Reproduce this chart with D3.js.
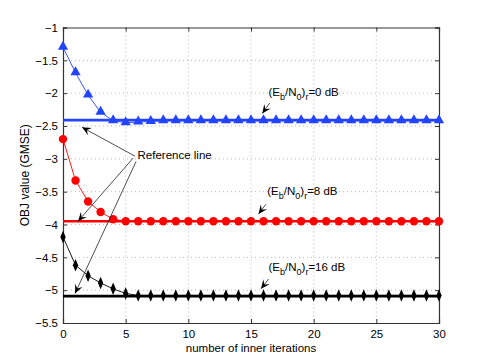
<!DOCTYPE html>
<html><head><meta charset="utf-8">
<script src="https://cdn.jsdelivr.net/npm/d3@7"></script>
<style>body{margin:0;background:#fff}svg{display:block}text{font-family:"Liberation Sans",Arial,sans-serif}</style>
</head><body><svg id="c" width="485" height="364"></svg>
<script>
const iterations = d3.range(0, 31);
const blueVals = [-1.30,-1.69,-2.03,-2.29,-2.42,-2.45,-2.44,-2.43,-2.42,-2.42,-2.42,-2.42,-2.42,-2.42,-2.42,-2.42,-2.42,-2.42,-2.42,-2.42,-2.42,-2.42,-2.42,-2.42,-2.42,-2.42,-2.42,-2.42,-2.42,-2.42,-2.42];
const redVals  = [-2.70,-3.33,-3.65,-3.81,-3.92,-3.95,-3.95,-3.95,-3.95,-3.95,-3.95,-3.95,-3.95,-3.95,-3.95,-3.95,-3.95,-3.95,-3.95,-3.95,-3.95,-3.95,-3.95,-3.95,-3.95,-3.95,-3.95,-3.95,-3.95,-3.95,-3.95];
const blackVals= [-4.19,-4.62,-4.78,-4.89,-4.98,-5.05,-5.08,-5.08,-5.08,-5.08,-5.08,-5.08,-5.08,-5.08,-5.08,-5.08,-5.08,-5.08,-5.08,-5.08,-5.08,-5.08,-5.08,-5.08,-5.08,-5.08,-5.08,-5.08,-5.08,-5.08,-5.08];
const refLines = [-2.41, -3.95, -5.09];
const xTicks = [0,5,10,15,20,25,30];
const yTicks = [-1,-1.5,-2,-2.5,-3,-3.5,-4,-4.5,-5,-5.5];
const snrLabels = ["0 dB","8 dB","16 dB"];

const W=485,H=364, L=63, R=439, T=27.5, B=323;
const x = d3.scaleLinear().domain([0,30]).range([L,R]);
const y = d3.scaleLinear().domain([-5.5,-1]).range([B,T]);
const svg = d3.select("#c");

// grid
const g = svg.append("g");
g.selectAll(".gx").data(xTicks.slice(1,-1)).enter().append("line")
 .attr("x1",d=>x(d)).attr("x2",d=>x(d)).attr("y1",T).attr("y2",B)
 .attr("stroke","#a8a8a8").attr("stroke-width",0.8).attr("stroke-dasharray","1,3");
g.selectAll(".gy").data(yTicks.slice(1,-1)).enter().append("line")
 .attr("y1",d=>y(d)).attr("y2",d=>y(d)).attr("x1",L).attr("x2",R)
 .attr("stroke","#a8a8a8").attr("stroke-width",0.8).attr("stroke-dasharray","1,3");

// axes
const fmt = d=> (d<0? "\u2212"+Math.abs(d): String(d));
const axB = d3.axisBottom(x).tickValues(xTicks).tickSize(-4).tickPadding(7).tickFormat(d=>d);
const axL = d3.axisLeft(y).tickValues(yTicks).tickSize(-4).tickPadding(5).tickFormat(fmt);
const axT = d3.axisTop(x).tickValues(xTicks).tickSize(-4).tickFormat("");
const axR = d3.axisRight(y).tickValues(yTicks).tickSize(-4).tickFormat("");
function style(sel){ sel.select(".domain").attr("stroke","#333").attr("stroke-width",1.2);
 sel.selectAll(".tick line").attr("stroke","#333");
 sel.selectAll("text").attr("font-size",11.5).attr("fill","#000").attr("font-family","Liberation Sans, Arial, sans-serif"); }
svg.append("g").attr("transform",`translate(0,${B})`).call(axB).call(style);
svg.append("g").attr("transform",`translate(${L},0)`).call(axL).call(style);
svg.append("g").attr("transform",`translate(0,${T})`).call(axT).call(style);
svg.append("g").attr("transform",`translate(${R},0)`).call(axR).call(style);

// reference lines
const colors = ["#2244ff","#ff0000","#000000"];
refLines.forEach((v,i)=>{
  svg.append("line").attr("x1",x(0)).attr("x2",x(30)).attr("y1",y(v)).attr("y2",y(v))
   .attr("stroke",colors[i]).attr("stroke-width",2.6);
});

const series=[blueVals,redVals,blackVals];
const line = d3.line().x((d,i)=>x(iterations[i])).y(d=>y(d));
series.forEach((s,i)=>{
  svg.append("path").attr("d",line(s)).attr("fill","none").attr("stroke",colors[i]).attr("stroke-width",0.9);
});
// markers
const tri = d3.symbol().type(d3.symbolTriangle).size(46);
svg.selectAll(".tri").data(blueVals).enter().append("path")
 .attr("d",tri).attr("transform",(d,i)=>`translate(${x(iterations[i])},${y(d)-0.5})`).attr("fill",colors[0]);
svg.selectAll(".cir").data(redVals).enter().append("circle")
 .attr("cx",(d,i)=>x(iterations[i])).attr("cy",d=>y(d)).attr("r",4.2).attr("fill",colors[1]);
svg.selectAll(".dia").data(blackVals).enter().append("path")
 .attr("d",d3.symbol().type(d3.symbolDiamond).size(34))
 .attr("transform",(d,i)=>`translate(${x(iterations[i])},${y(d)}) scale(0.85,1.15)`).attr("fill",colors[2]);

// arrows
function arrow(x0,y0,x1,y1){
  const px0=x(x0),py0=y(y0),px1=x(x1),py1=y(y1);
  const a=Math.atan2(py1-py0,px1-px0);
  svg.append("line").attr("x1",px0).attr("y1",py0).attr("x2",px1).attr("y2",py1)
   .attr("stroke","#222").attr("stroke-width",0.8);
  const len=9, wid=4;
  const bx=px1-len*Math.cos(a), by=py1-len*Math.sin(a);
  const nx=-Math.sin(a), ny=Math.cos(a);
  const mx=px1-0.6*len*Math.cos(a), my=py1-0.6*len*Math.sin(a);
  svg.append("path").attr("d",`M${px1},${py1}L${bx+nx*wid},${by+ny*wid}L${mx},${my}L${bx-nx*wid},${by-ny*wid}Z`)
   .attr("fill","#000");
}
const snrText = [[16.4,-2.04],[16.3,-3.55],[16.4,-4.71]];
const snrArrows = [[16.5,-2.15,15.9,-2.31],[16.2,-3.69,15.6,-3.84],[16.4,-4.83,15.8,-4.98]];
snrLabels.forEach((lab,i)=>{
  const t=svg.append("text").attr("x",x(snrText[i][0])).attr("y",y(snrText[i][1])).attr("font-size",11.5);
  t.append("tspan").text("(E");
  t.append("tspan").text("b").attr("font-size",9).attr("dy",4);
  t.append("tspan").text("/N").attr("dy",-4);
  t.append("tspan").text("0").attr("font-size",9).attr("dy",4);
  t.append("tspan").text(")").attr("dy",-4);
  t.append("tspan").text("r").attr("font-size",9).attr("dy",4);
  t.append("tspan").text("="+lab).attr("dy",-4);
  arrow(...snrArrows[i]);
});
svg.append("text").attr("x",x(5.95)).attr("y",y(-3.01)).attr("font-size",11.5).text("Reference line");
arrow(5.75,-2.96,1.52,-2.52);
arrow(5.59,-2.99,1.20,-3.95);
arrow(5.83,-3.04,0.96,-5.05);

// axis labels
svg.append("text").attr("x",(L+R)/2).attr("y",352).attr("text-anchor","middle").attr("font-size",11.5).text("number of inner iterations");
svg.append("text").attr("transform",`translate(29,${(T+B)/2}) rotate(-90)`).attr("text-anchor","middle").attr("font-size",12).text("OBJ value (GMSE)");
</script></body></html>
